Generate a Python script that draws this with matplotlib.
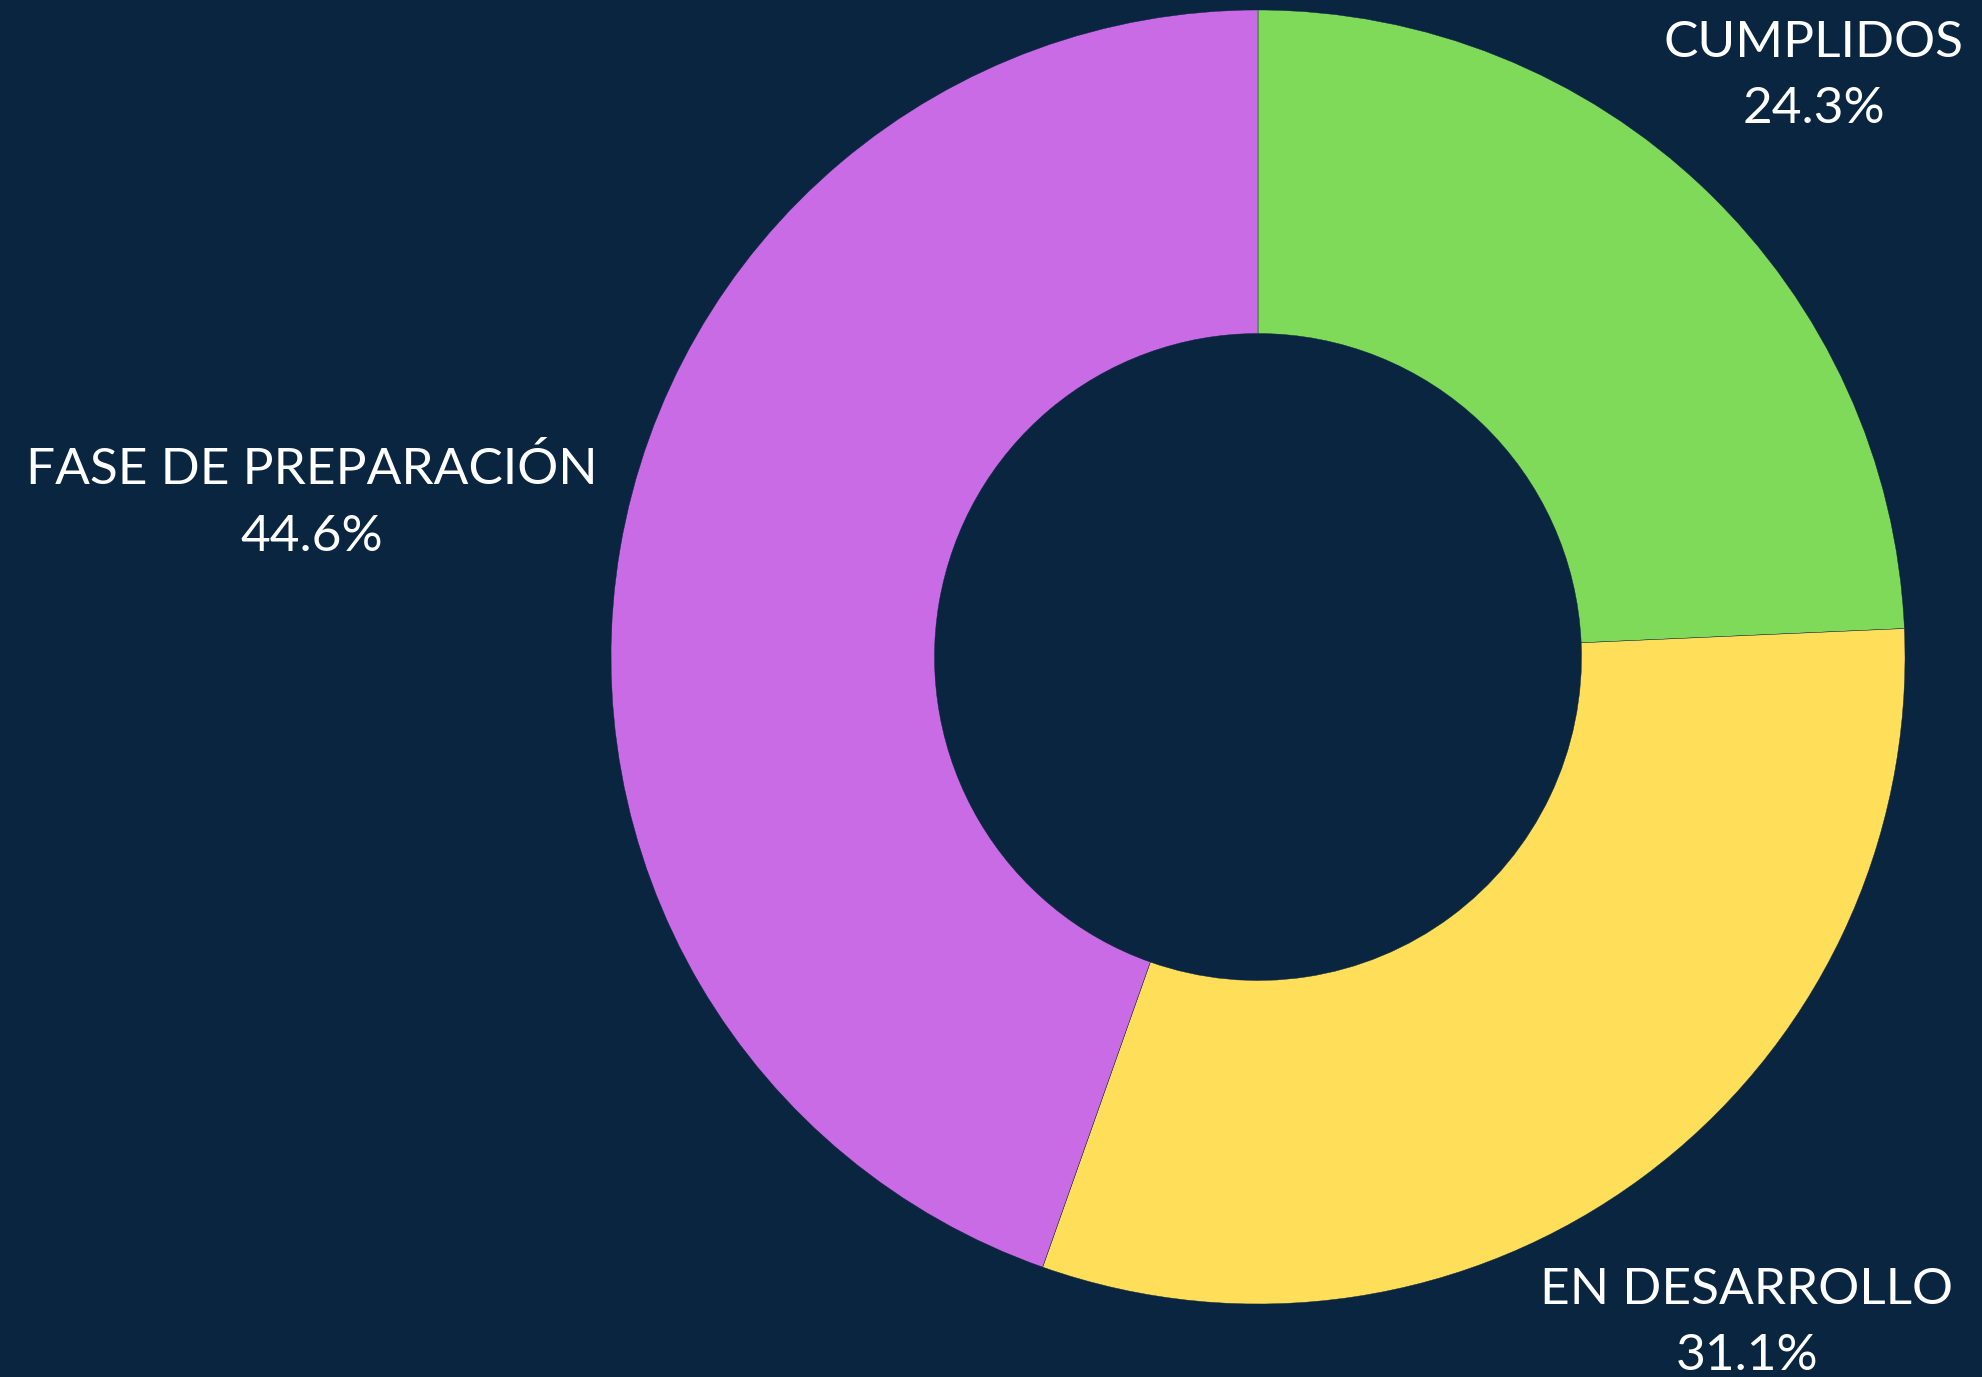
import matplotlib.pyplot as plt

# data
categorias = ['CUMPLIDOS', 'EN DESARROLLO', 'FASE DE PREPARACIÓN']
porcentajes = [24.3, 31.1, 44.6]
colores = ['#80DA5A', '#FFDF5A', '#C96BE5']
fondo = '#0A2540'

W, H = 1982, 1377
fig = plt.figure(figsize=(W / 100, H / 100), dpi=100, facecolor=fondo)

# donut: center (1258, 657) px, radius 647 px
cx, cy, r = 1258, 657, 647
ax = fig.add_axes([(cx - r) / W, (H - cy - r) / H, 2 * r / W, 2 * r / H])
ax.set_facecolor(fondo)
ax.pie(porcentajes, colors=colores, startangle=90, counterclock=False,
       radius=1, wedgeprops=dict(width=0.5, edgecolor=fondo, linewidth=0.3))
ax.set_xlim(-1, 1)
ax.set_ylim(-1, 1)
ax.set_aspect('equal')
ax.axis('off')

# label positions (px, center of text block)
pos = [(1814, 76), (1747, 1323), (312, 503)]
for nombre, p, (x, y) in zip(categorias, porcentajes, pos):
    fig.text(x / W, 1 - y / H, f'{nombre}\n{p:.1f}%', ha='center', va='center',
             color='white', fontsize=37, family='Lato', fontweight='normal',
             linespacing=1.55)

fig.savefig('out.png', dpi=100, facecolor=fondo)
